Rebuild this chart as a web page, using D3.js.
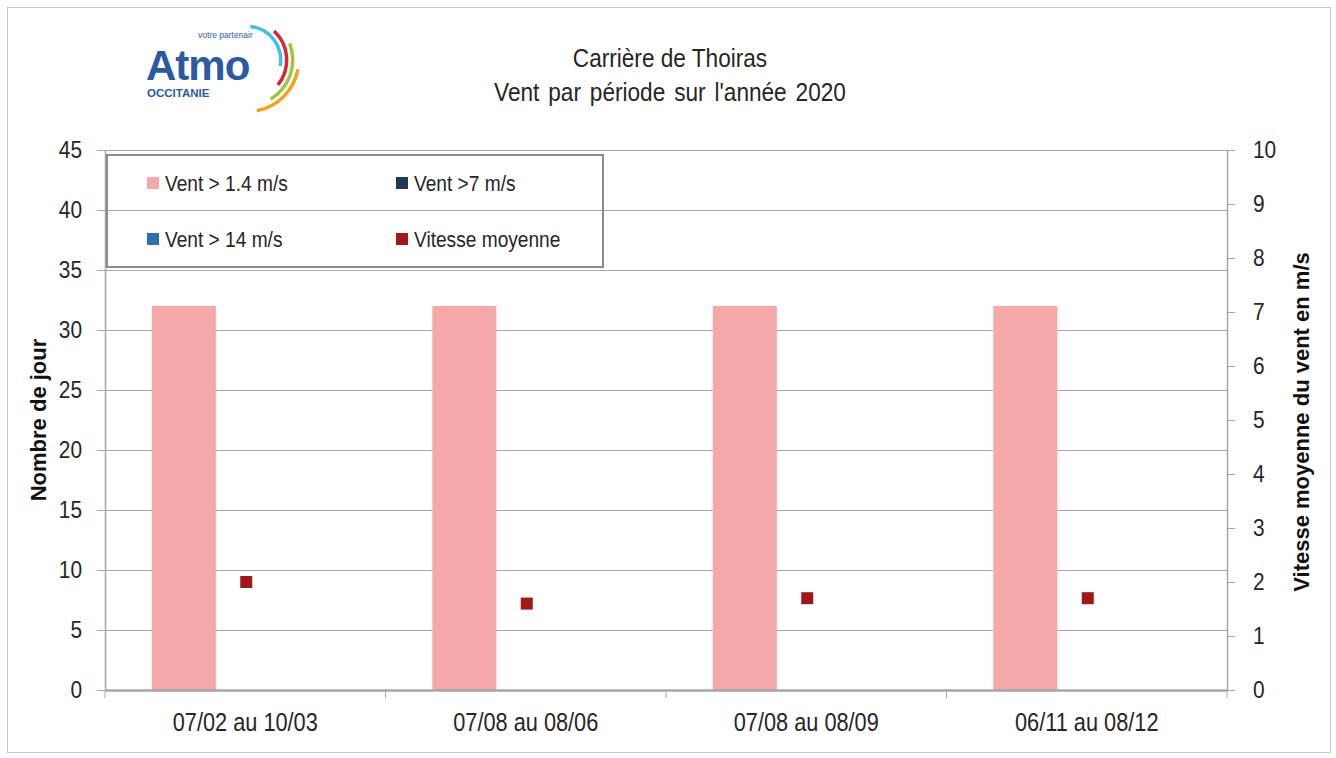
<!DOCTYPE html>
<meta charset="utf-8">
<script src="https://d3js.org/d3.v7.min.js"></script>
<style>
  body { margin: 0; background: #fff; }
  text { font-family: "Liberation Sans", Arial, sans-serif; fill: #262626; }
  .narrow { transform-box: fill-box; transform: scaleX(0.87); }
</style>
<div id="chart"></div>
<script>

// data
var periods = ["07/02 au 10/03", "07/08 au 08/06", "07/08 au 08/09", "06/11 au 08/12"];
var vent14 = [32, 32, 32, 32];   // Vent > 1.4 m/s
var vent7 = [0, 0, 0, 0];        // Vent >7 m/s
var vent140 = [0, 0, 0, 0];      // Vent > 14 m/s
var vitesse = [2.0, 1.6, 1.7, 1.7];
var leftTicks = [0, 5, 10, 15, 20, 25, 30, 35, 40, 45];
var rightTicks = [0, 1, 2, 3, 4, 5, 6, 7, 8, 9, 10];

var series = [
  {name: "Vent > 1.4 m/s", values: vent14, color: "#f4a9a8"},
  {name: "Vent >7 m/s", values: vent7, color: "#1f3a55"},
  {name: "Vent > 14 m/s", values: vent140, color: "#2e6fad"}
];

var W = 1336, H = 758;
var margin = {top: 150, right: 109, bottom: 68, left: 105},
    width = W - margin.left - margin.right,
    height = H - margin.top - margin.bottom;

var svg = d3.select("#chart").append("svg")
    .attr("width", W)
    .attr("height", H);

// outer frame
svg.append("rect")
    .attr("x", 7.5).attr("y", 7.5)
    .attr("width", 1323).attr("height", 745)
    .attr("fill", "none").attr("stroke", "#c8c8c8");

var g = svg.append("g")
    .attr("transform", "translate(" + margin.left + "," + margin.top + ")");

var x = d3.scaleBand().domain(periods).range([0, width]);
var xs = d3.scaleBand().domain(d3.range(series.length))
    .range([0, x.bandwidth()]).paddingOuter(0.69).paddingInner(0).align(0.53);
var y = d3.scaleLinear().domain([0, 45]).range([height, 0]);
var y2 = d3.scaleLinear().domain([0, 10]).range([height, 0]);

// grid
g.selectAll(".grid").data(leftTicks.slice(1)).enter().append("line")
    .attr("x1", 0).attr("x2", width)
    .attr("y1", function(d) { return Math.round(y(d)) + 0.5; })
    .attr("y2", function(d) { return Math.round(y(d)) + 0.5; })
    .attr("stroke", "#a6a6a6");

// bars
series.forEach(function(s, i) {
  g.selectAll(".bar" + i).data(s.values).enter().append("rect")
      .attr("x", function(d, j) { return x(periods[j]) + xs(i); })
      .attr("y", function(d) { return y(d); })
      .attr("width", xs.bandwidth())
      .attr("height", function(d) { return height - y(d); })
      .attr("fill", s.color);
});

// left axis
var yAxis = g.append("g")
    .call(d3.axisLeft(y).tickValues(leftTicks).tickSize(8).tickSizeOuter(0).tickPadding(15));
yAxis.selectAll("text").attr("class", "narrow")
    .style("font-size", "24px").style("transform-origin", "right center");

// right axis
var y2Axis = g.append("g")
    .attr("transform", "translate(" + width + ",0)")
    .call(d3.axisRight(y2).tickValues(rightTicks).tickSize(8).tickSizeOuter(0).tickPadding(18));
y2Axis.selectAll("text").attr("class", "narrow")
    .style("font-size", "24px").style("transform-origin", "left center");

// bottom axis
var xAxis = g.append("g")
    .attr("transform", "translate(0," + height + ")")
    .call(d3.axisBottom(x).tickSize(0).tickPadding(23));
xAxis.selectAll("text").attr("class", "narrow")
    .style("font-size", "25px").style("transform-origin", "center");
xAxis.selectAll(".sep").data(d3.range(periods.length + 1)).enter().append("line")
    .attr("class", "sep")
    .attr("x1", function(d) { return d * x.step(); })
    .attr("x2", function(d) { return d * x.step(); })
    .attr("y1", 0).attr("y2", 8)
    .attr("stroke", "#a6a6a6");

[yAxis, y2Axis, xAxis].forEach(function(a) {
  a.selectAll("path, line").attr("stroke", "#a6a6a6");
  a.select(".domain").attr("stroke-width", 1.5);
});
xAxis.select(".domain").attr("stroke-width", 2.5);

// markers for average speed
g.selectAll(".pt").data(vitesse).enter().append("rect")
    .attr("x", function(d, j) { return x(periods[j]) + x.bandwidth() / 2 - 5; })
    .attr("y", function(d) { return y2(d) - 6; })
    .attr("width", 12).attr("height", 12)
    .attr("fill", "#a01818");

// axis titles
svg.append("text")
    .attr("transform", "translate(46,420) rotate(-90)")
    .attr("text-anchor", "middle")
    .style("font-size", "22px").style("font-weight", "bold")
    .style("fill", "#111")
    .text("Nombre de jour");
svg.append("text")
    .attr("transform", "translate(1309,422) rotate(-90)")
    .attr("text-anchor", "middle")
    .style("font-size", "22px").style("font-weight", "bold")
    .style("fill", "#111")
    .text("Vitesse moyenne du vent en m/s");

// title
svg.append("text").attr("class", "narrow").attr("x", 670).attr("y", 67).attr("text-anchor", "middle")
    .style("font-size", "26px").style("transform-origin", "center").text("Carrière de Thoiras");
svg.append("text").attr("class", "narrow").attr("x", 670).attr("y", 101).attr("text-anchor", "middle")
    .style("font-size", "26px").style("transform-origin", "center").style("word-spacing", "3px")
    .text("Vent par période sur l'année 2020");

// legend
var legendItems = series.concat([{name: "Vitesse moyenne", color: "#a01818"}]);
var lg = svg.append("g");
lg.append("rect")
    .attr("x", 107).attr("y", 155).attr("width", 496).attr("height", 112)
    .attr("fill", "none").attr("stroke", "#8c8c8c").attr("stroke-width", 2);
var legPos = [[147, 183], [396, 183], [147, 239], [396, 239]];
legendItems.forEach(function(it, i) {
  lg.append("rect")
      .attr("x", legPos[i][0]).attr("y", legPos[i][1] - 6)
      .attr("width", 12).attr("height", 12)
      .attr("fill", it.color);
  lg.append("text")
      .attr("class", "narrow")
      .attr("x", legPos[i][0] + 18).attr("y", legPos[i][1] + 8)
      .style("font-size", "22px").style("transform-origin", "left center")
      .text(it.name);
});

// logo
var logo = svg.append("g").attr("transform", "translate(247,60)");
var arcs = [
  {c: "#3fc1e0", r: 32, a0: 0.1, a1: 1.75},
  {c: "#d6263a", r: 38, a0: 0.75, a1: 2.25},
  {c: "#9bc63d", r: 44, a0: 1.2, a1: 2.6},
  {c: "#f2a31b", r: 50, a0: 1.75, a1: 2.95}
];
arcs.forEach(function(a) {
  logo.append("path")
      .attr("d", d3.arc()({innerRadius: a.r, outerRadius: a.r + 3.5, startAngle: a.a0, endAngle: a.a1}))
      .attr("fill", a.c);
});
svg.append("text").attr("x", 146).attr("y", 80)
    .style("font-size", "42px").style("font-weight", "bold").style("fill", "#2c5aa0")
    .style("letter-spacing", "-1px")
    .text("Atmo");
var tag = svg.append("text").attr("x", 198).attr("y", 38).style("font-size", "8.5px");
tag.append("tspan").style("fill", "#2c5aa0").text("votre partenair");
svg.append("text").attr("x", 147).attr("y", 97)
    .style("font-size", "11.5px").style("font-weight", "bold").style("fill", "#2c5aa0")
    .text("OCCITANIE");

</script>
